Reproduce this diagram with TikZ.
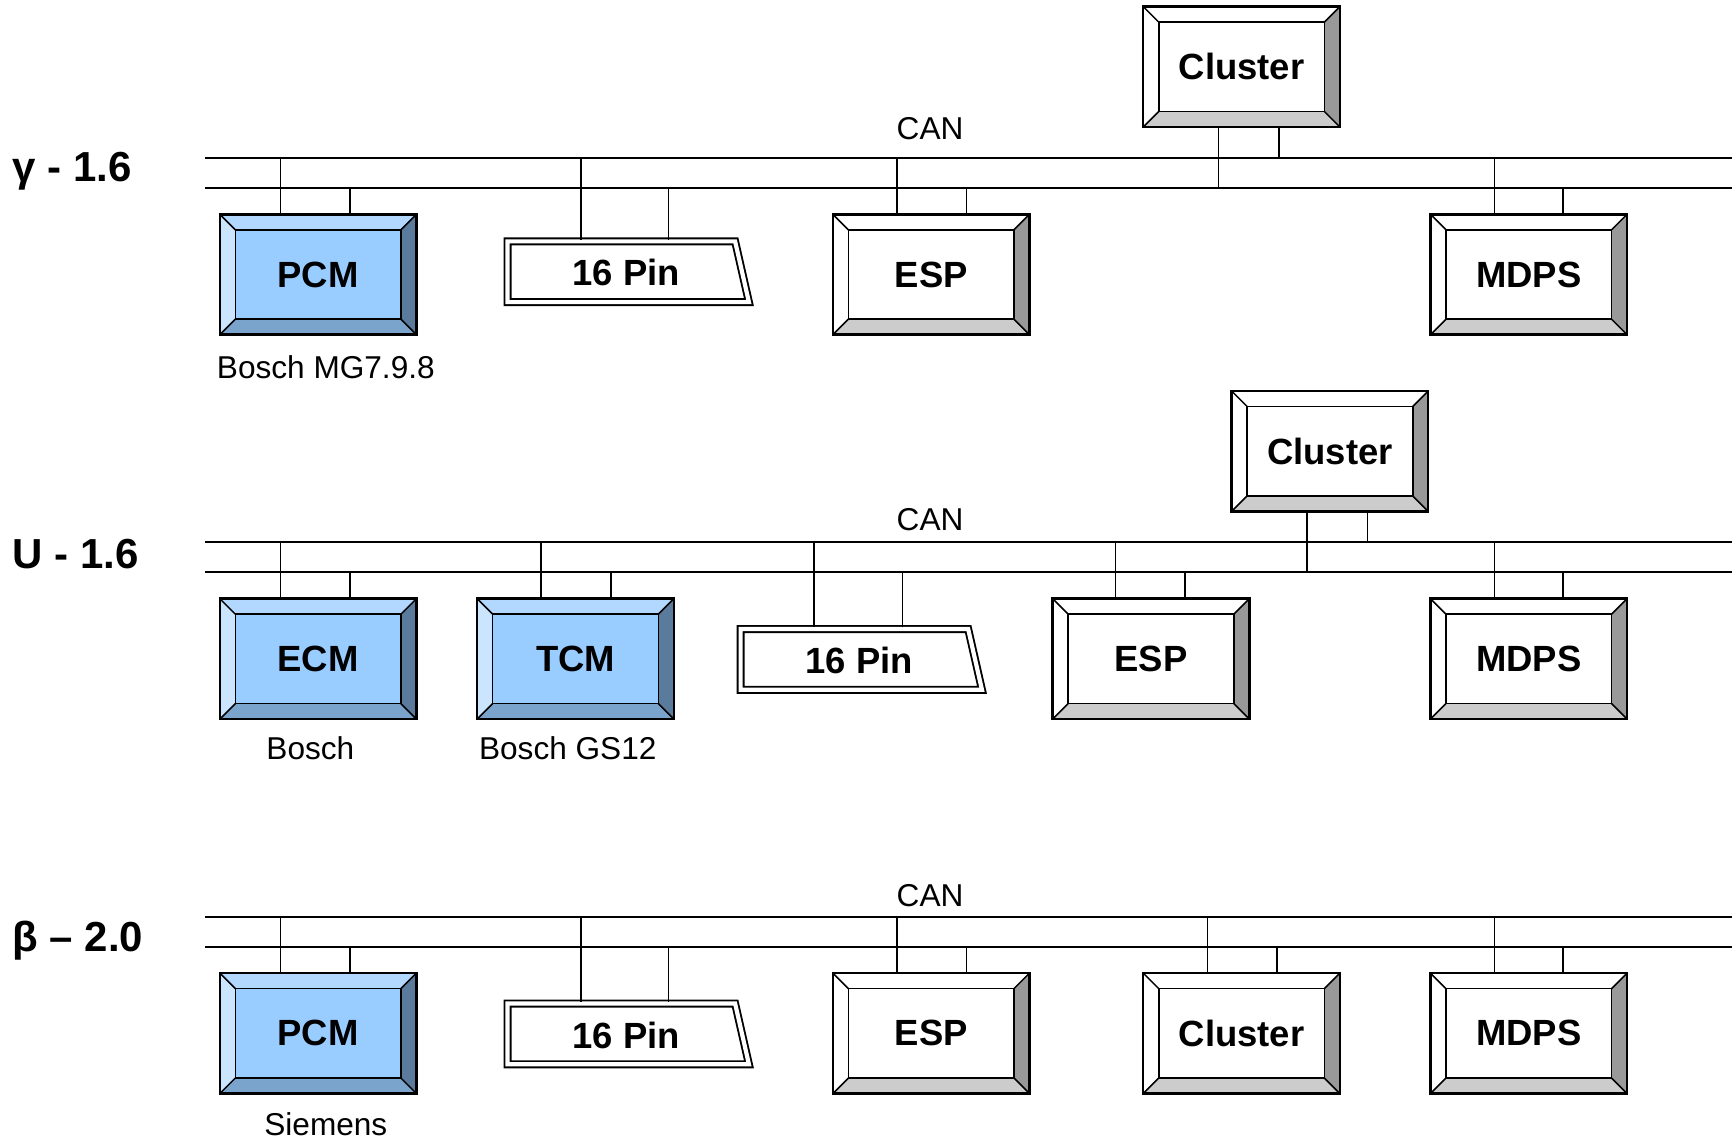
\documentclass[tikz,border=0pt]{standalone}
\usepackage{fontspec}
\setmainfont{Liberation Sans}
\definecolor{wtop}{HTML}{FFFFFF}
\definecolor{wleft}{HTML}{FFFFFF}
\definecolor{wright}{HTML}{999999}
\definecolor{wbottom}{HTML}{CCCCCC}
\definecolor{wcenter}{HTML}{FFFFFF}
\definecolor{btop}{HTML}{B3D8FF}
\definecolor{bleft}{HTML}{CCE5FF}
\definecolor{bright}{HTML}{5B7B9C}
\definecolor{bbottom}{HTML}{7BA4CD}
\definecolor{bcenter}{HTML}{99CCFF}
\tikzset{
  boxtxt/.style={font=\fontsize{16.5}{18}\selectfont\bfseries, inner sep=0pt, outer sep=0pt, draw=black, line width=1.1pt},
  pintxt/.style={font=\fontsize{16.5}{18}\selectfont\bfseries, inner sep=0pt, outer sep=0pt},
  rowlabel/.style={font=\fontsize{19}{21}\selectfont\bfseries, inner sep=0pt, anchor=west},
  sublabel/.style={font=\fontsize{14.3}{16}\selectfont, inner sep=0pt},
  bus/.style={line width=0.9pt},
  tapline/.style={line width=0.7pt},
  bevelline/.style={line width=0.7pt},
  pinline/.style={draw=black, double=white, line width=0.85pt, double distance=1.9pt, line join=miter}
}
\newcommand{\bbox}[5]{%
  \begin{scope}[shift={(#2,#3)}]
    \fill[#5top] (0,0) -- (178,0) -- (164,14) -- (14,14) -- cycle;
    \fill[#5left] (0,0) -- (14,14) -- (14,95) -- (0,109) -- cycle;
    \fill[#5right] (178,0) -- (178,109) -- (164,95) -- (164,14) -- cycle;
    \fill[#5bottom] (0,109) -- (14,95) -- (164,95) -- (178,109) -- cycle;
    \fill[#5center] (14,14) rectangle (164,95);
    \draw[bevelline] (0,0) -- (14,14) (178,0) -- (164,14) (0,109) -- (14,95) (178,109) -- (164,95);
    \draw[bevelline] (14,14) rectangle (164,95);
  \end{scope}
  \node[boxtxt, minimum width=89pt, minimum height=54.5pt] (#1) at ({#2+89},{#3+54.5}) {#4};
}
\newcommand{\pinbox}[3]{%
  \begin{scope}[shift={(#2,#3)}]
    \draw[pinline] (2.5,2.5) -- (208.5,2.5) -- (221,57.5) -- (2.5,57.5) -- cycle;
  \end{scope}
  \node[pintxt, minimum width=112pt, minimum height=30pt] (#1) at ({#2+110},{#3+31}) {16 Pin};
}
\newcommand{\tapdown}[3]{%
  \coordinate (tmp) at ([xshift=#2*0.5pt]#1.north west);
  \draw[tapline] (tmp) -- (tmp |- #3);
}
\newcommand{\tapup}[3]{%
  \coordinate (tmp) at ([xshift=#2*0.5pt]#1.south west);
  \draw[tapline] (tmp) -- (tmp |- #3);
}
\begin{document}
\begin{tikzpicture}[x=0.5pt, y=-0.5pt]
\useasboundingbox (0,0) rectangle (1568,1032);

% ---------- Row 1 ----------
\node[rowlabel] (r1) at (11,155) {γ - 1.6};
\coordinate (b1t) at (186,143);
\coordinate (b1b) at (186,170);
\coordinate (b1te) at (1570,143);
\coordinate (b1be) at (1570,170);
\draw[bus] (b1t) -- (b1te);
\draw[bus] (b1b) -- (b1be);
\node[sublabel] (can1) at (842,116) {CAN};

\bbox{pcm1}{199}{194}{PCM}{b}
\pinbox{pin1}{457}{216}
\bbox{esp1}{754}{194}{ESP}{w}
\bbox{cl1}{1035}{6}{Cluster}{w}
\bbox{mdps1}{1295}{194}{MDPS}{w}
\node[sublabel] (sub1) at (295,332) {Bosch MG7.9.8};

\tapdown{pcm1}{55}{b1t}
\tapdown{pcm1}{118}{b1b}
\tapdown{pin1}{71}{b1t}
\tapdown{pin1}{150}{b1b}
\tapdown{esp1}{58}{b1t}
\tapdown{esp1}{121}{b1b}
\tapdown{mdps1}{58}{b1t}
\tapdown{mdps1}{120}{b1b}
\tapup{cl1}{68}{b1b}
\tapup{cl1}{123}{b1t}

% ---------- Row 2 ----------
\node[rowlabel] (r2) at (11,502) {U - 1.6};
\coordinate (b2t) at (186,491);
\coordinate (b2b) at (186,518);
\coordinate (b2te) at (1570,491);
\coordinate (b2be) at (1570,518);
\draw[bus] (b2t) -- (b2te);
\draw[bus] (b2b) -- (b2be);
\node[sublabel] (can2) at (842,470) {CAN};

\bbox{ecm2}{199}{542}{ECM}{b}
\bbox{tcm2}{432}{542}{TCM}{b}
\pinbox{pin2}{668}{567}
\bbox{esp2}{953}{542}{ESP}{w}
\bbox{cl2}{1115}{354}{Cluster}{w}
\bbox{mdps2}{1295}{542}{MDPS}{w}
\node[sublabel] (sub2a) at (281,677) {Bosch};
\node[sublabel] (sub2b) at (514,677) {Bosch GS12};

\tapdown{ecm2}{55}{b2t}
\tapdown{ecm2}{118}{b2b}
\tapdown{tcm2}{58}{b2t}
\tapdown{tcm2}{121}{b2b}
\tapdown{pin2}{71}{b2t}
\tapdown{pin2}{151}{b2b}
\tapdown{esp2}{57}{b2t}
\tapdown{esp2}{120}{b2b}
\tapdown{mdps2}{58}{b2t}
\tapdown{mdps2}{120}{b2b}
\tapup{cl2}{68}{b2b}
\tapup{cl2}{123}{b2t}

% ---------- Row 3 ----------
\node[rowlabel] (r3) at (11,852) {β – 2.0};
\coordinate (b3t) at (186,830);
\coordinate (b3b) at (186,857);
\coordinate (b3te) at (1570,830);
\coordinate (b3be) at (1570,857);
\draw[bus] (b3t) -- (b3te);
\draw[bus] (b3b) -- (b3be);
\node[sublabel] (can3) at (842,811) {CAN};

\bbox{pcm3}{199}{881}{PCM}{b}
\pinbox{pin3}{457}{906}
\bbox{esp3}{754}{881}{ESP}{w}
\bbox{cl3}{1035}{881}{Cluster}{w}
\bbox{mdps3}{1295}{881}{MDPS}{w}
\node[sublabel] (sub3) at (295,1018) {Siemens};

\tapdown{pcm3}{55}{b3t}
\tapdown{pcm3}{118}{b3b}
\tapdown{pin3}{71}{b3t}
\tapdown{pin3}{150}{b3b}
\tapdown{esp3}{58}{b3t}
\tapdown{esp3}{121}{b3b}
\tapdown{cl3}{58}{b3t}
\tapdown{cl3}{121}{b3b}
\tapdown{mdps3}{58}{b3t}
\tapdown{mdps3}{120}{b3b}
\end{tikzpicture}
\end{document}
